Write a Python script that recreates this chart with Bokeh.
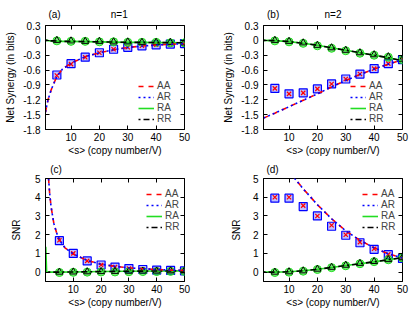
from bokeh.plotting import figure
from bokeh.models import FixedTicker, LinearAxis, Legend, LegendItem
from bokeh.layouts import gridplot
from bokeh.embed import file_html
from bokeh.resources import INLINE

FONT = "Liberation Sans"

# ---------------- data ----------------
x_pts = [5, 10, 15, 20, 25, 30, 35, 40, 45, 50]
x_ticks = [10, 20, 30, 40, 50]

syn_ticks = [0.3, 0, -0.3, -0.6, -0.9, -1.2, -1.5, -1.8]
syn_tick_labels = ["0.3", "0", "-0.3", "-0.6", "-0.9", "-1.2", "-1.5", "-1.8"]
snr_ticks = [0, 1, 2, 3, 4, 5]
snr_tick_labels = ["0", "1", "2", "3", "4", "5"]

panel_tags = ["(a)", "(b)", "(c)", "(d)"]
panel_titles = ["n=1", "n=2"]

# panel (a) n=1 synergy
a_AA_pts = [-0.71, -0.48, -0.34, -0.25, -0.18, -0.14, -0.11, -0.09, -0.075, -0.065]
a_AR_pts = [-0.70, -0.47, -0.34, -0.25, -0.18, -0.14, -0.11, -0.09, -0.075, -0.065]
a_RA_pts = [-0.01, -0.02, -0.02, -0.03, -0.03, -0.04, -0.04, -0.04, -0.05, -0.05]
a_RR_pts = [0.0, -0.01, -0.02, -0.02, -0.03, -0.03, -0.04, -0.04, -0.04, -0.05]
a_curve_x = [1, 1.5, 2, 3, 4, 5, 7, 10, 15, 20, 25, 30, 35, 40, 45, 50]
a_AA_curve = [-1.45, -1.3, -1.18, -1.0, -0.86, -0.73, -0.58, -0.46, -0.33, -0.25, -0.19, -0.145, -0.115, -0.095, -0.08, -0.065]
a_AR_curve = [-1.45, -1.3, -1.18, -1.0, -0.86, -0.73, -0.58, -0.46, -0.33, -0.25, -0.19, -0.145, -0.115, -0.095, -0.08, -0.065]
a_RA_curve = [0.0, 0.0, -0.005, -0.01, -0.01, -0.015, -0.02, -0.02, -0.025, -0.03, -0.035, -0.04, -0.04, -0.045, -0.045, -0.05]
a_RR_curve = [0.0, 0.0, -0.005, -0.01, -0.01, -0.015, -0.02, -0.02, -0.025, -0.03, -0.035, -0.04, -0.04, -0.045, -0.045, -0.05]

# panel (b) n=2 synergy
b_AA_pts = [-0.97, -1.08, -1.06, -0.98, -0.88, -0.78, -0.68, -0.57, -0.47, -0.39]
b_AR_pts = [-0.97, -1.08, -1.06, -0.98, -0.88, -0.78, -0.68, -0.57, -0.47, -0.39]
b_RA_pts = [-0.01, -0.03, -0.06, -0.11, -0.16, -0.21, -0.26, -0.30, -0.34, -0.39]
b_RR_pts = [0.0, -0.02, -0.05, -0.10, -0.15, -0.20, -0.25, -0.29, -0.33, -0.38]
b_curve_x = [1, 5, 10, 15, 20, 25, 30, 35, 40, 45, 50]
b_AA_curve = [-1.57, -1.47, -1.34, -1.21, -1.08, -0.94, -0.81, -0.69, -0.58, -0.48, -0.39]
b_AR_curve = [-1.57, -1.47, -1.34, -1.21, -1.08, -0.94, -0.81, -0.69, -0.58, -0.48, -0.39]
b_RA_curve = [0.0, -0.005, -0.025, -0.06, -0.10, -0.15, -0.20, -0.25, -0.30, -0.35, -0.41]
b_RR_curve = [0.0, -0.005, -0.025, -0.06, -0.10, -0.15, -0.20, -0.25, -0.30, -0.35, -0.41]

# panel (c) n=1 SNR
c_AA_pts = [1.70, 1.0, 0.60, 0.38, 0.27, 0.19, 0.14, 0.11, 0.09, 0.07]
c_AR_pts = [1.68, 1.0, 0.60, 0.38, 0.27, 0.19, 0.14, 0.11, 0.09, 0.07]
c_RA_pts = [-0.02, -0.01, 0.0, 0.01, 0.01, 0.02, 0.03, 0.03, 0.04, 0.04]
c_RR_pts = [0.0, 0.01, 0.02, 0.03, 0.04, 0.05, 0.06, 0.06, 0.07, 0.07]
c_curve_x = [1.1, 1.5, 2, 3, 4, 5, 7, 10, 15, 20, 25, 30, 35, 40, 45, 50]
c_AA_curve = [5.0, 4.2, 3.5, 2.6, 2.1, 1.72, 1.3, 0.97, 0.62, 0.42, 0.31, 0.23, 0.18, 0.14, 0.11, 0.09]
c_AR_curve = [5.0, 4.2, 3.5, 2.6, 2.1, 1.72, 1.3, 0.97, 0.62, 0.42, 0.31, 0.23, 0.18, 0.14, 0.11, 0.09]
c_RA_x = [0.1, 0.4, 1, 5, 10, 20, 30, 40, 50]
c_RA_curve = [1.35, 0.02, 0.0, 0.0, 0.01, 0.03, 0.05, 0.06, 0.07]
c_RR_x = [1, 5, 10, 20, 30, 40, 50]
c_RR_curve = [0.0, 0.0, 0.01, 0.03, 0.05, 0.06, 0.07]

# panel (d) n=2 SNR
d_AA_pts = [4.0, 4.0, 3.55, 3.0, 2.5, 2.0, 1.6, 1.25, 0.95, 0.75]
d_AR_pts = [3.95, 3.95, 3.5, 3.0, 2.45, 1.97, 1.57, 1.22, 0.93, 0.73]
d_RA_pts = [-0.02, 0.0, 0.05, 0.14, 0.24, 0.34, 0.45, 0.56, 0.66, 0.76]
d_RR_pts = [0.0, 0.02, 0.07, 0.16, 0.26, 0.37, 0.47, 0.57, 0.67, 0.77]
d_AA_x = [11, 12, 15, 20, 25, 30, 35, 40, 45, 50]
d_AA_curve = [5.25, 5.0, 4.45, 3.6, 2.85, 2.2, 1.7, 1.3, 0.98, 0.75]
d_AR_curve = [5.25, 5.0, 4.45, 3.6, 2.85, 2.2, 1.7, 1.3, 0.98, 0.75]
d_RA_x = [1, 5, 10, 15, 20, 25, 30, 35, 40, 45, 50]
d_RA_curve = [0.0, 0.0, 0.02, 0.07, 0.15, 0.25, 0.35, 0.45, 0.55, 0.66, 0.78]
d_RR_curve = [0.0, 0.0, 0.02, 0.07, 0.15, 0.25, 0.35, 0.45, 0.55, 0.66, 0.78]

RED = "#ff0000"
BLUE = "#0000ff"
GREEN = "#22dd22"
BLACK = "#000000"
FS = "10px"


def make_panel(width, height, xr, yr, borders, yticks, ylabels, ylabel,
               ylabel_standoff, head_pos, head_text, head_standoff):
    bl, br, bt, bb = borders
    p = figure(width=width, height=height, x_range=xr, y_range=yr,
               min_border_left=bl, min_border_right=br, min_border_top=bt,
               min_border_bottom=bb, output_backend="svg", toolbar_location=None,
               title=None)
    p.xgrid.visible = False
    p.ygrid.visible = False
    p.outline_line_color = "black"
    p.outline_line_width = 1
    p.outline_line_alpha = 1
    p.background_fill_color = "white"
    p.border_fill_color = "white"

    xa = p.xaxis[0]
    xa.ticker = FixedTicker(ticks=x_ticks)
    xa.axis_label = "<s> (copy number/V)"
    ya = p.yaxis[0]
    ya.ticker = FixedTicker(ticks=yticks)
    ya.major_label_overrides = {t: l for t, l in zip(yticks, ylabels)}
    ya.axis_label = ylabel
    for ax in (xa, ya):
        ax.major_tick_in = 4
        ax.major_tick_out = 0
        ax.minor_tick_line_color = None
        ax.axis_line_color = "black"
        ax.major_label_text_font = FONT
        ax.major_label_text_font_size = FS
        ax.major_label_text_color = "black"
        ax.axis_label_text_font = FONT
        ax.axis_label_text_font_size = FS
        ax.axis_label_text_font_style = "normal"
        ax.axis_label_text_color = "black"
    xa.major_label_standoff = 3
    xa.axis_label_standoff = 1
    ya.major_label_standoff = 5
    ya.axis_label_standoff = ylabel_standoff

    # mirrored inward ticks on top and right
    top = LinearAxis(ticker=FixedTicker(ticks=x_ticks),
                     major_label_overrides={t: "" for t in x_ticks},
                     major_label_standoff=0, axis_line_color=None,
                     major_tick_in=4, major_tick_out=0,
                     minor_tick_line_color=None, major_label_text_font_size="1px")
    right = LinearAxis(ticker=FixedTicker(ticks=yticks),
                       major_label_overrides={t: "" for t in yticks},
                       major_label_standoff=0, axis_line_color=None,
                       major_tick_in=4, major_tick_out=0,
                       minor_tick_line_color=None, major_label_text_font_size="1px")
    p.add_layout(top, "above")
    p.add_layout(right, "right")

    # panel tag and heading, written as labels of a tick-less top axis
    head = LinearAxis(ticker=FixedTicker(ticks=head_pos),
                      major_label_overrides={t: s for t, s in zip(head_pos, head_text)},
                      major_label_standoff=head_standoff, axis_line_color=None,
                      major_tick_line_color=None, major_tick_in=0, major_tick_out=0,
                      minor_tick_line_color=None, major_label_text_font=FONT,
                      major_label_text_font_size=FS, major_label_text_color="black")
    p.add_layout(head, "above")
    return p


def add_series(p, AA_pts, AR_pts, RA_pts, RR_pts,
               AA_x, AA_c, AR_x, AR_c, RA_x, RA_c, RR_x, RR_c, loc, sp):
    p.scatter(x_pts, AR_pts, marker="square", size=8, line_color=BLUE,
              fill_color=BLUE, fill_alpha=0.25, line_width=1.2)
    p.scatter(x_pts, AA_pts, marker="x", size=6, line_color=RED, line_width=1.2)
    p.scatter(x_pts, RA_pts, marker="circle", size=8, line_color=GREEN,
              fill_color=GREEN, fill_alpha=0.6, line_width=1)
    p.scatter(x_pts, RR_pts, marker="triangle", size=7, line_color=BLACK,
              fill_color=None, line_width=1)
    r_ra = p.line(RA_x, RA_c, line_color=GREEN, line_width=1.6)
    r_rr = p.line(RR_x, RR_c, line_color=BLACK, line_width=1.6, line_dash="2 3 6 3")
    r_aa = p.line(AA_x, AA_c, line_color=RED, line_width=1.6, line_dash="5 5")
    r_ar = p.line(AR_x, AR_c, line_color=BLUE, line_width=1.6, line_dash="2 3")
    leg = Legend(items=[LegendItem(label="AA", renderers=[r_aa]),
                        LegendItem(label="AR", renderers=[r_ar]),
                        LegendItem(label="RA", renderers=[r_ra]),
                        LegendItem(label="RR", renderers=[r_rr])],
                 location=loc, background_fill_alpha=0, border_line_color=None,
                 label_text_font=FONT, label_text_font_size=FS, glyph_width=16,
                 glyph_height=8, label_height=8, label_standoff=3, spacing=sp,
                 padding=2, margin=0)
    p.add_layout(leg, "center")


pa = make_panel(208, 158, (1, 50), (-1.8, 0.3), (45, 24, 25, 29),
                syn_ticks, syn_tick_labels, "Net Synergy (in bits)", 4,
                [4.2, 27.0], [panel_tags[0], panel_titles[0]], 6)
add_series(pa, a_AA_pts, a_AR_pts, a_RA_pts, a_RR_pts,
           a_curve_x, a_AA_curve, a_curve_x, a_AR_curve,
           a_curve_x, a_RA_curve, a_curve_x, a_RR_curve, (93, 5), -3)

pb = make_panel(205, 158, (1, 50), (-1.8, 0.3), (55, 11, 25, 29),
                syn_ticks, syn_tick_labels, "Net Synergy (in bits)", 4,
                [4.4, 25.5], [panel_tags[1], panel_titles[1]], 6)
add_series(pb, b_AA_pts, b_AR_pts, b_RA_pts, b_RR_pts,
           b_curve_x, b_AA_curve, b_curve_x, b_AR_curve,
           b_curve_x, b_RA_curve, b_curve_x, b_RR_curve, (87, 5), -3)

pc = make_panel(208, 160, (0, 50), (-0.5, 5), (34, 24, 20, 37),
                snr_ticks, snr_tick_labels, "SNR", 10,
                [3.8], [panel_tags[2]], 4)
add_series(pc, c_AA_pts, c_AR_pts, c_RA_pts, c_RR_pts,
           c_curve_x, c_AA_curve, c_curve_x, c_AR_curve,
           c_RA_x, c_RA_curve, c_RR_x, c_RR_curve, (101, 49), -1)

pd = make_panel(205, 160, (1, 50), (-0.5, 5), (45, 11, 20, 37),
                snr_ticks, snr_tick_labels, "SNR", 8,
                [4.2], [panel_tags[3]], 4)
add_series(pd, d_AA_pts, d_AR_pts, d_RA_pts, d_RR_pts,
           d_AA_x, d_AA_curve, d_AA_x, d_AR_curve,
           d_RA_x, d_RA_curve, d_RA_x, d_RR_curve, (99, 49), -1)

grid = gridplot([[pa, pb], [pc, pd]], toolbar_location=None)

with open("out.html", "w") as f:
    f.write(file_html(grid, INLINE))
